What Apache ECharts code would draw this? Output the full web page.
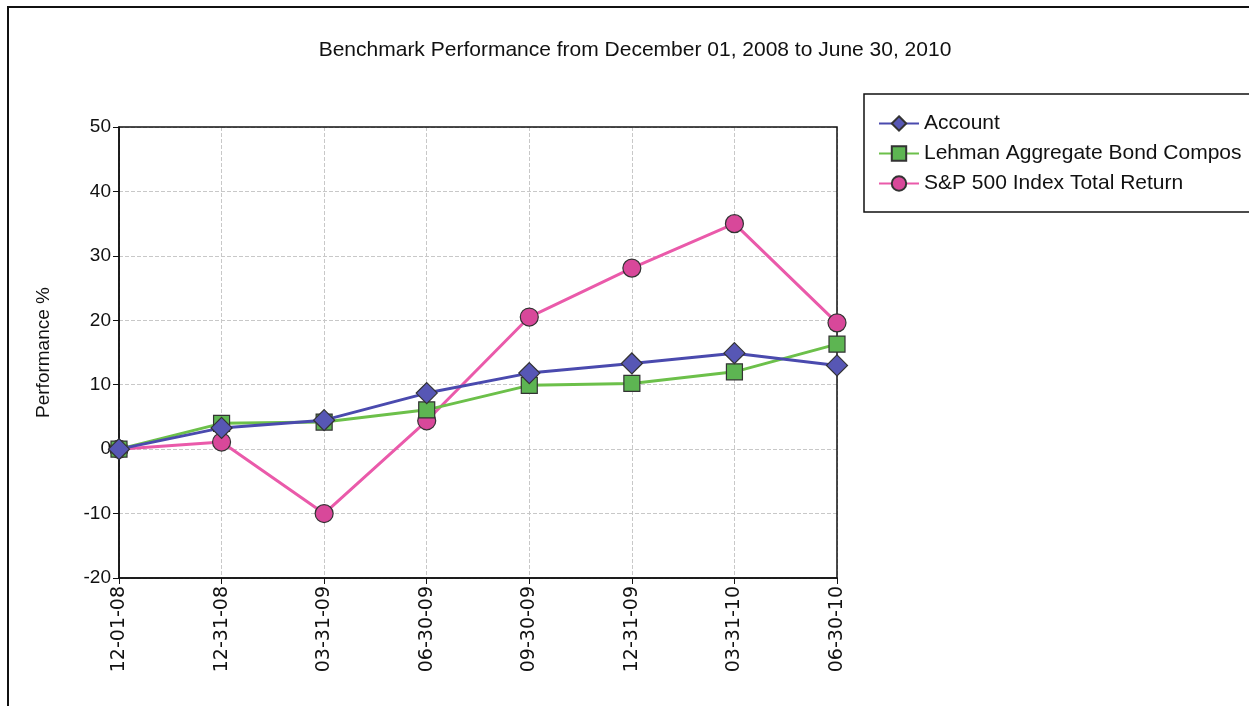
<!DOCTYPE html>
<html><head><meta charset="utf-8">
<script src="https://cdn.jsdelivr.net/npm/echarts@6/dist/echarts.min.js"></script>
<style>html,body{margin:0;padding:0;background:#fff}#c{width:1249px;height:706px}</style>
</head><body><div id="c"></div>
<script>
const categories = ['12-01-08','12-31-08','03-31-09','06-30-09','09-30-09','12-31-09','03-31-10','06-30-10'];
const account = [0, 3.3, 4.5, 8.7, 11.8, 13.3, 14.9, 13.0];
const lehman = [0, 4.0, 4.2, 6.1, 9.9, 10.2, 12.0, 16.3];
const sp500 = [0, 1.1, -10.0, 4.4, 20.5, 28.1, 35.0, 19.6];
const seriesNames = ['Account','Lehman Aggregate Bond Compos','S&P 500 Index Total Return'];
const yTicks = {min:-20, max:50, interval:10};

const font = 'Liberation Sans, Arial, sans-serif';
const G = {left:119, top:127, width:718, height:451};
const chart = echarts.init(document.getElementById('c'));
function mk(name, data, color, fill, symbol, size, z){
  return {name, type:'line', data, symbol, symbolSize:size, showSymbol:true, z,
    lineStyle:{color, width:3}, itemStyle:{color:fill, borderColor:'#333', borderWidth:1.2}};
}
chart.setOption({
  animation:false,
  backgroundColor:'#fff',
  title:{text:'Benchmark Performance from December 01, 2008 to June 30, 2010', left:630, top:35, textAlign:'center',
    textStyle:{fontFamily:font, fontSize:21, fontWeight:'normal', color:'#111'}},
  graphic:[
    {type:'rect', shape:{x:8, y:7, width:1300, height:760}, style:{fill:'none', stroke:'#111', lineWidth:2}, silent:true, z:0},
    {type:'rect', shape:{x:G.left, y:G.top, width:G.width, height:G.height}, style:{fill:'none', stroke:'#111', lineWidth:1.5}, silent:true, z:1}
  ],
  legend:{left:864, top:94, orient:'vertical', itemWidth:40, itemHeight:18, itemGap:9,
    padding:[19,14,18,14], backgroundColor:'#fff', borderColor:'#111', borderWidth:1.5,
    textStyle:{fontFamily:font, fontSize:21, color:'#111'}, data:seriesNames},
  grid:{left:G.left, top:G.top, width:G.width, height:G.height},
  xAxis:{type:'category', data:categories, boundaryGap:false,
    axisLine:{onZero:false, lineStyle:{color:'#111', width:1.5}}, axisTick:{show:true, length:6, lineStyle:{color:'#111'}},
    axisLabel:{rotate:90, fontFamily:'DejaVu Sans, sans-serif', fontSize:19, color:'#111', margin:8},
    splitLine:{show:true, lineStyle:{color:'#c8c8c8', type:'dashed'}}},
  yAxis:{type:'value', min:yTicks.min, max:yTicks.max, interval:yTicks.interval,
    name:'Performance %', nameLocation:'middle', nameGap:66, nameTextStyle:{fontFamily:font, fontSize:19, color:'#111'},
    axisLine:{show:true, lineStyle:{color:'#111', width:1.5}}, axisTick:{show:true, length:6, lineStyle:{color:'#111'}},
    axisLabel:{fontFamily:font, fontSize:19, color:'#111', margin:8},
    splitLine:{show:true, lineStyle:{color:'#c8c8c8', type:'dashed'}}},
  series:[
    mk(seriesNames[0], account, '#4a4aae', '#5757b5', 'diamond', 21, 5),
    mk(seriesNames[1], lehman, '#6cc04a', '#5db552', 'rect', 16, 4),
    mk(seriesNames[2], sp500, '#ea5aaa', '#d8489a', 'circle', 18, 3)
  ]
});
</script></body></html>
